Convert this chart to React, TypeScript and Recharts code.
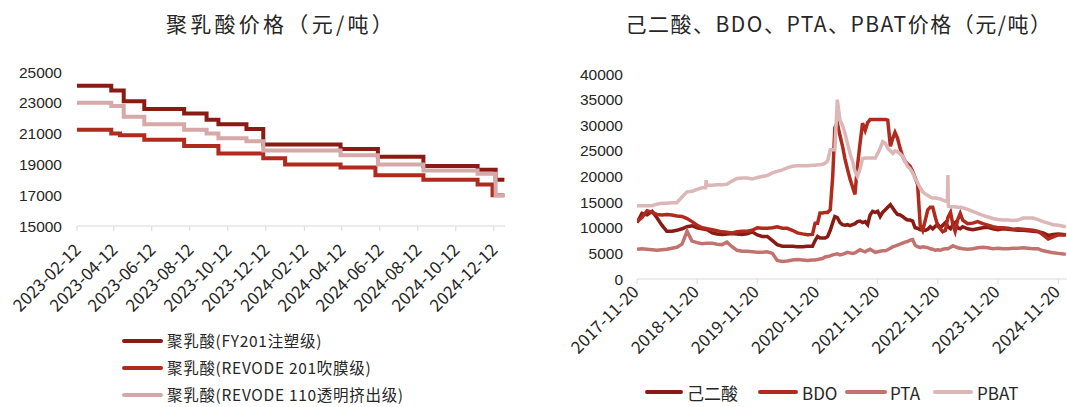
import React from 'react';
import { LineChart, Line, XAxis, YAxis } from 'recharts';

// ---------------- Left chart: 聚乳酸价格 ----------------
const plaDates = [
  '2023-02-12', '2023-04-08', '2023-04-22', '2023-04-28', '2023-05-31', '2023-08-03',
  '2023-09-08', '2023-09-27', '2023-11-11', '2023-12-08', '2024-01-12', '2024-04-10',
  '2024-06-05', '2024-06-09', '2024-08-21', '2024-11-16', '2024-12-10', '2024-12-15',
  '2024-12-29',
];
const plaFY201 = [24100, 23800, 23800, 23100, 22600, 22300, 21900, 21600, 21300, 20300, 20300, 20000, 20000, 19500, 18900, 18650, 18650, 18000, 18000];
const plaRevode201 = [21250, 21000, 20900, 20900, 20600, 20200, 20200, 19700, 19700, 19400, 19000, 18800, 18300, 18300, 18000, 17700, 17000, 17000, 17000];
const plaRevode110 = [23000, 22800, 22800, 22100, 21600, 21250, 21000, 20700, 20500, 19900, 19900, 19600, 19600, 19000, 18600, 18400, 18400, 17000, 17000];
const plaTickDates = [
  '2023-02-12', '2023-04-12', '2023-06-12', '2023-08-12', '2023-10-12', '2023-12-12',
  '2024-02-12', '2024-04-12', '2024-06-12', '2024-08-12', '2024-10-12', '2024-12-12',
];
const plaYTicks = [15000, 17000, 19000, 21000, 23000, 25000];
const plaSeriesNames = ['聚乳酸(FY201注塑级)', '聚乳酸(REVODE 201吹膜级)', '聚乳酸(REVODE 110透明挤出级)'];

// ---------------- Right chart: 己二酸、BDO、PTA、PBAT ----------------
const rawDates = [
  // monthly 2017-11 .. 2018-12
  '2017-11-20', '2017-12-20', '2018-01-20', '2018-02-20', '2018-03-20', '2018-04-20', '2018-05-20',
  '2018-06-20', '2018-07-20', '2018-08-20', '2018-09-20', '2018-10-20', '2018-11-20', '2018-12-20',
  // PBAT spike detail
  '2019-01-10', '2019-01-14', '2019-01-17',
  // monthly 2019-01 .. 2020-09
  '2019-01-20', '2019-02-20', '2019-03-20', '2019-04-20', '2019-05-20', '2019-06-20', '2019-07-20',
  '2019-08-20', '2019-09-20', '2019-10-20', '2019-11-20', '2019-12-20', '2020-01-20', '2020-02-20',
  '2020-03-20', '2020-04-20', '2020-05-20', '2020-06-20', '2020-07-20', '2020-08-20', '2020-09-20',
  // half-monthly 2020-10 .. 2023-01
  '2020-10-20', '2020-11-05', '2020-11-20', '2020-12-05', '2020-12-20', '2021-01-05', '2021-01-20',
  '2021-02-05', '2021-02-20', '2021-03-05', '2021-03-20', '2021-04-05', '2021-04-20', '2021-05-05',
  '2021-05-20', '2021-06-05', '2021-06-20', '2021-07-05', '2021-07-20', '2021-08-05', '2021-08-20',
  '2021-09-05', '2021-09-20', '2021-10-05', '2021-10-20', '2021-11-05', '2021-11-20', '2021-12-05',
  '2021-12-20', '2022-01-05', '2022-01-20', '2022-02-05', '2022-02-20', '2022-03-05', '2022-03-20',
  '2022-04-05', '2022-04-20', '2022-05-05', '2022-05-20', '2022-06-05', '2022-06-20', '2022-07-05',
  '2022-07-20', '2022-08-05', '2022-08-20', '2022-09-05', '2022-09-20', '2022-10-05', '2022-10-20',
  '2022-11-05', '2022-11-20', '2022-12-05', '2022-12-20', '2023-01-05',
  // PBAT spike detail + half-monthly to 2023-04
  '2023-01-17', '2023-01-20', '2023-01-23',
  '2023-02-05', '2023-02-20', '2023-03-05', '2023-03-20', '2023-04-05', '2023-04-20',
  // monthly 2023-05 .. 2025-01
  '2023-05-20', '2023-06-20', '2023-07-20', '2023-08-20', '2023-09-20', '2023-10-20', '2023-11-20',
  '2023-12-20', '2024-01-20', '2024-02-20', '2024-03-20', '2024-04-20', '2024-05-20', '2024-06-20',
  '2024-07-20', '2024-08-20', '2024-09-20', '2024-10-20', '2024-11-20', '2024-12-20', '2025-01-05',
];

const adipic = [
  11000, 12800, 12500, 13200, 12000, 10500, 9300, 9300, 9500, 9800, 10200, 10400, 10000, 9800,
  null, null, null,
  9600, 9000, 8800, 8700, 8800, 8900, 8800, 8700, 8800, 9200, 8600, 8300, 8300, 7500, 6700, 6400, 6400, 6400, 6300, 6300, 6400,
  6400, 7500, 8300, 8000, 8000, 8000, 8300, 9500, 11000, 12200, 12000, 11000, 10600, 10500,
  10600, 10400, 10600, 10800, 11200, 11300, 11000, 11200, 10600, 12500, 13200, 13000, 13200, 12200,
  13000, 13500, 14000, 14500, 13800, 13200, 12600, 12500, 12200, 11800, 11500, 11500, 11300, 10000,
  9900, 9600, 9600, 9500, 9700, 10200, 9800, 10300, 10600, 10000, 10500, 11000,
  null, 10200, null,
  9800, 10600, 11000, 10000, 9800, 10200,
  9800, 9600, 9800, 10000, 10100, 9800, 9600, 9800, 9700, 9600, 9500, 9500, 9400, 9300, 9200, 9000, 8500, 8700, 8800, 8700, 8600,
];

const bdo = [
  11200, 12000, 13300, 13000, 12600, 12500, 12600, 12500, 12300, 12200, 11800, 11200, 10500, 10000,
  null, null, null,
  9800, 9600, 9400, 9200, 9100, 9000, 9200, 9300, 9300, 9500, 10000, 9900, 9900, 10000, 10200, 9900, 9900, 9500, 9000, 8800, 8650,
  8700, 10900, 10900, 12900, 12900, 13000, 13000, 13500, 20000, 29500, 30400, 28000, 26000, 23500,
  21500, 19500, 18000, 16500, 22000, 26500, 30400, 29000, 30500, 31100, 31100, 31100, 31100, 31100,
  31100, 31100, 31000, 25900, 27500, 28600, 27500, 25500, 24000, 23000, 22500, 22000, 21000, 19800,
  18500, 10500, 9500, 11500, 13500, 14000, 14000, 12000, 10300, 9800, 9200, 9500,
  null, 12000, null,
  13000, 10500, 9300, 11500, 12800, 11500,
  10800, 10900, 11200, 10800, 10500, 10200, 10000, 10000, 9900, 9700, 9800, 9700, 9600, 9500, 9300, 8600, 7800, 8200, 8600, 8600, 8700,
];

const pta = [
  5800, 5900, 5800, 5700, 5600, 5700, 5800, 6000, 6200, 6800, 9300, 7400, 7100, 6900,
  null, null, null,
  7000, 7000, 6800, 6700, 7200, 6300, 5600, 5400, 5400, 5300, 5200, 5200, 5300, 5000, 3600, 3400, 3500, 3700, 3800, 3700, 3600,
  3700, 3700, 3800, 3900, 4000, 4300, 4400, 4500, 4700, 4800, 4900, 4700, 4800, 5000,
  5200, 5100, 5000, 5100, 5400, 5700, 5500, 5300, 5600, 5800, 5500, 5200, 5300, 5400,
  5500, 5500, 5700, 6000, 6300, 6400, 6600, 6800, 7000, 7200, 7300, 7600, 7700, 6600,
  6300, 6100, 6300, 6200, 6100, 5900, 5800, 5600, 5700, 5600, 5800, 5900,
  null, 5900, null,
  6200, 6500, 6300, 6100, 6000, 5900,
  5800, 5900, 6100, 6200, 6100, 5900, 6000, 5900, 5900, 6000, 6000, 6100, 6000, 5900, 5900, 5500, 5300, 5100, 5000, 4900, 4800,
];

const pbat = [
  14300, 14300, 14300, 14300, 14600, 14800, 14800, 14900, 14900, 16000, 17000, 17100, 17500, 17800,
  17800, 19300, 18300,
  18300, 18300, 18400, 18400, 18500, 19100, 19600, 19700, 19700, 19500, 19800, 20000, 20200, 20700, 21000, 21300, 21700, 22000, 22100, 22100, 22100,
  22200, 22200, 22300, 22300, 22400, 22600, 23000, 25200, 25200, 25200, 35000, 31000, 30000, 28500,
  26500, 24500, 23000, 21000, 20000, 21500, 23500, 23600, 23600, 23600, 23600, 23600, 24500, 25500,
  26800, 26500, 25500, 25000, 24500, 25000, 24800, 24400, 24000, 23000, 22000, 21500, 20700, 19700,
  18800, 17800, 17000, 16600, 16300, 16000, 15800, 15800, 15700, 15600, 15400, 15200,
  15100, 20300, 14200,
  14100, 14100, 14100, 14000, 14000, 13900,
  13600, 13200, 12800, 12400, 12100, 11800, 11600, 11500, 11500, 11400, 11500, 11900, 11900, 11900, 11600, 11200, 10900, 10600, 10500, 10300, 10200,
];
const rawTickDates = ['2017-11-20', '2018-11-20', '2019-11-20', '2020-11-20', '2021-11-20', '2022-11-20', '2023-11-20', '2024-11-20'];
const rawYTicks = [0, 5000, 10000, 15000, 20000, 25000, 30000, 35000, 40000];
const rawSeriesNames = ['己二酸', 'BDO', 'PTA', 'PBAT'];

// ---------------- styling ----------------
const C_DARK = '#8a1b14';
const C_RED = '#b02a1d';
const C_ROSE = '#c27370';
const C_LIGHT = '#dcb7b7';
const C_LIGHT2 = '#d6a8a8';
const AXIS = '#d9d9d9';
const TXT = '#262626';
const CJK = '"Noto Sans CJK SC", "Noto Sans", sans-serif';
const NUM = '"Liberation Sans", Arial, sans-serif';

const ts = (d: string) => Date.parse(d + 'T00:00:00Z');
const fmt = (v: number) => new Date(v).toISOString().slice(0, 10);

const plaData = plaDates.map((d, i) => ({ t: ts(d), a: plaFY201[i], b: plaRevode201[i], c: plaRevode110[i] }));
const rawData = rawDates.map((d, i) => ({ t: ts(d), adipic: adipic[i], bdo: bdo[i], pta: pta[i], pbat: pbat[i] }));

const makeTick = (dx: number, dy: number) => (props: any) => {
  const { x, y, payload } = props;
  const px = x + dx;
  const py = y + dy;
  return (
    <text x={px} y={py} transform={`rotate(-45 ${px} ${py})`} textAnchor="end" fontSize={17} fill={TXT} fontFamily={CJK}>
      {fmt(payload.value)}
    </text>
  );
};
const LeftTick = makeTick(5, 20);
const RightTick = makeTick(3, 9);

const yTickStyle = { fontSize: 15.5, fill: TXT, fontFamily: NUM };

function LegendLine({ x, y, w, color }: { x: number; y: number; w: number; color: string }) {
  return <div style={{ position: 'absolute', left: x, top: y - 2, width: w, height: 4, background: color, borderRadius: 2 }} />;
}
function LegendText({ x, y, text, size, ls }: { x: number; y: number; text: string; size: number; ls: number }) {
  return (
    <div style={{ position: 'absolute', left: x, top: y - size / 2 - 2, fontSize: size, lineHeight: `${size + 4}px`, fontFamily: CJK, color: TXT, whiteSpace: 'nowrap', letterSpacing: ls }}>
      {text}
    </div>
  );
}

export default function App() {
  const plaColors = [C_DARK, C_RED, C_LIGHT2];
  const rawColors = [C_DARK, C_RED, C_ROSE, C_LIGHT];
  const rawLegend = [
    { lx: 645, lw: 38, tx: 687 },
    { lx: 758, lw: 40, tx: 802 },
    { lx: 845, lw: 42, tx: 890 },
    { lx: 933, lw: 40, tx: 977 },
  ];
  return (
    <div style={{ position: 'absolute', left: 0, top: 0, width: 1067, height: 407, background: '#fff', overflow: 'hidden' }}>
      <div style={{ position: 'absolute', left: 81, width: 400, top: 10, textAlign: 'center', fontSize: 21, lineHeight: '26px', fontFamily: CJK, color: TXT, letterSpacing: 3.3, whiteSpace: 'nowrap' }}>
        聚乳酸价格（元/吨）
      </div>
      <div style={{ position: 'absolute', left: 589, width: 500, top: 10, textAlign: 'center', fontSize: 21, lineHeight: '26px', fontFamily: CJK, color: TXT, letterSpacing: 1.5, whiteSpace: 'nowrap' }}>
        己二酸、BDO、PTA、PBAT价格（元/吨）
      </div>

      <div style={{ position: 'absolute', left: 0, top: 0 }}>
        <LineChart width={520} height={370} data={plaData} margin={{ top: 72, right: 15, left: 0, bottom: 84 }}>
          <XAxis
            dataKey="t"
            type="number"
            domain={[ts('2023-02-12'), ts('2024-12-30')]}
            ticks={plaTickDates.map(ts)}
            interval={0}
            allowDataOverflow
            height={60}
            stroke={AXIS}
            tickLine={{ stroke: AXIS }}
            tickSize={5}
            tickMargin={0}
            tick={LeftTick}
          />
          <YAxis
            type="number"
            domain={[15000, 25000]}
            ticks={plaYTicks}
            interval={0}
            width={77}
            axisLine={false}
            tickLine={false}
            tickSize={0}
            tickMargin={15}
            tick={yTickStyle}
          />
          <Line dataKey="a" type="stepAfter" stroke={plaColors[0]} strokeWidth={4} dot={false} isAnimationActive={false} />
          <Line dataKey="b" type="stepAfter" stroke={plaColors[1]} strokeWidth={4} dot={false} isAnimationActive={false} />
          <Line dataKey="c" type="stepAfter" stroke={plaColors[2]} strokeWidth={4} dot={false} isAnimationActive={false} />
        </LineChart>
      </div>

      <div style={{ position: 'absolute', left: 540, top: 0 }}>
        <LineChart width={527} height={380} data={rawData} margin={{ top: 74, right: 0, left: 0, bottom: 61 }}>
          <XAxis
            dataKey="t"
            type="number"
            domain={[ts('2017-11-20'), ts('2025-01-12')]}
            ticks={rawTickDates.map(ts)}
            interval={0}
            allowDataOverflow
            height={40}
            stroke={AXIS}
            tickLine={{ stroke: AXIS }}
            tickSize={5}
            tickMargin={0}
            tick={RightTick}
          />
          <YAxis
            type="number"
            domain={[0, 40000]}
            ticks={rawYTicks}
            interval={0}
            width={97}
            axisLine={false}
            tickLine={false}
            tickSize={0}
            tickMargin={14}
            tick={yTickStyle}
          />
          <Line dataKey="adipic" type="linear" stroke={rawColors[0]} strokeWidth={3.5} dot={false} connectNulls isAnimationActive={false} />
          <Line dataKey="bdo" type="linear" stroke={rawColors[1]} strokeWidth={3.5} dot={false} connectNulls isAnimationActive={false} />
          <Line dataKey="pta" type="linear" stroke={rawColors[2]} strokeWidth={3.5} dot={false} connectNulls isAnimationActive={false} />
          <Line dataKey="pbat" type="linear" stroke={rawColors[3]} strokeWidth={3.5} dot={false} connectNulls isAnimationActive={false} />
        </LineChart>
      </div>

      {plaSeriesNames.map((name, i) => (
        <React.Fragment key={name}>
          <LegendLine x={122} y={341 + i * 27} w={41} color={plaColors[i]} />
          <LegendText x={167} y={341 + i * 27} text={name} size={15.5} ls={0.7} />
        </React.Fragment>
      ))}

      {rawSeriesNames.map((name, i) => (
        <React.Fragment key={name}>
          <LegendLine x={rawLegend[i].lx} y={392} w={rawLegend[i].lw} color={rawColors[i]} />
          <LegendText x={rawLegend[i].tx} y={392} text={name} size={17} ls={0} />
        </React.Fragment>
      ))}
    </div>
  );
}
